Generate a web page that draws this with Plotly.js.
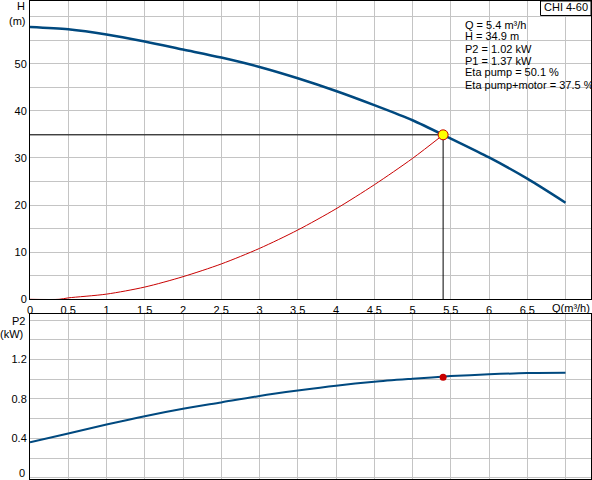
<!DOCTYPE html>
<html>
<head>
<meta charset="utf-8">
<script src="https://cdn.plot.ly/plotly-3.0.1.min.js"></script>
<style>html,body{margin:0;padding:0;background:#fff;}#chart{width:592px;height:480px;}</style>
</head>
<body>
<div id="chart"></div>
<script>
// Pump curve data
var flowQ = [0, 0.5, 1, 1.5, 2, 2.5, 3, 3.5, 4, 4.5, 5, 5.5, 6, 6.5, 7];
var headH = [57.8, 57.3, 56.2, 54.7, 53.0, 51.3, 49.3, 46.9, 44.2, 41.2, 38.0, 34.1, 30.1, 25.6, 20.5];
var powerP2 = [0.36, 0.45, 0.54, 0.625, 0.70, 0.765, 0.83, 0.885, 0.935, 0.975, 1.005, 1.032, 1.05, 1.063, 1.066];
// System curve
var sysQ = [0, 0.38, 0.5, 1, 1.5, 2, 2.5, 3, 3.5, 4, 4.5, 5, 5.4];
var sysH = [0, 0, 0.3, 1.1, 2.6, 4.8, 7.5, 10.8, 14.7, 19.2, 24.3, 29.9, 34.9];
// Operating point
var opQ = 5.4, opH = 34.9, opP2 = 1.02;
var infoLines = ["Q = 5.4 m³/h", "H = 34.9 m", "P2 = 1.02 kW", "P1 = 1.37 kW", "Eta pump = 50.1 %", "Eta pump+motor = 37.5 %"];
var titleText = "CHI 4-60";
var xTickVals = [0, 0.5, 1, 1.5, 2, 2.5, 3, 3.5, 4, 4.5, 5, 5.5, 6, 6.5, 7];
var xTickText = ["0", "0.5", "1", "1.5", "2", "2.5", "3", "3.5", "4", "4.5", "5", "5.5", "6", "6.5", ""];
var hTickVals = [0, 5, 10, 15, 20, 25, 30, 35, 40, 45, 50, 55, 60];
var hTickText = ["0", "", "10", "", "20", "", "30", "", "40", "", "50", "", ""];
var pTickVals = [0, 0.2, 0.4, 0.6, 0.8, 1.0, 1.2, 1.4, 1.6];
var pTickText = ["", "", "0.4", "", "0.8", "", "1.2", "", ""];

var blue = "#00497f", red = "#c80000", grid = "#c4c4c4";
var FONT = "Liberation Sans, Arial, sans-serif";

var traces = [
  {x: [0, opQ, opQ], y: [opH, opH, 0], mode: "lines", line: {color: "#000", width: 1}, xaxis: "x", yaxis: "y", hoverinfo: "skip"},
  {x: sysQ, y: sysH, mode: "lines", line: {color: red, width: 1, shape: "spline", smoothing: 0.8}, xaxis: "x", yaxis: "y"},
  {x: flowQ, y: headH, mode: "lines", line: {color: blue, width: 2.5, shape: "spline", smoothing: 0.8}, xaxis: "x", yaxis: "y"},
  {x: [opQ], y: [opH], mode: "markers", marker: {color: "#ffff00", size: 10, line: {color: red, width: 1}}, xaxis: "x", yaxis: "y"},
  {x: flowQ, y: powerP2, mode: "lines", line: {color: blue, width: 2, shape: "spline", smoothing: 0.8}, xaxis: "x2", yaxis: "y2"},
  {x: [opQ], y: [opP2], mode: "markers", marker: {color: red, size: 7}, xaxis: "x2", yaxis: "y2"}
];

function px2paperY(py) { return (479 - py) / 478; }

var annotations = [];
for (var i = 0; i < infoLines.length; i++) {
  annotations.push({xref: "paper", yref: "paper", x: (462.5 - 30) / 561, y: px2paperY(24.5 + i * 12),
    xanchor: "left", yanchor: "middle", showarrow: false, text: infoLines[i], font: {family: FONT, size: 11, color: "#000"}});
}
annotations.push({xref: "paper", yref: "paper", x: (566 - 30) / 561, y: px2paperY(7.5), xanchor: "center", yanchor: "middle",
  showarrow: false, text: titleText, font: {family: FONT, size: 11, color: "#000"}});
annotations.push({xref: "paper", yref: "paper", x: -3 / 561, y: px2paperY(6.5), xanchor: "right", yanchor: "middle",
  showarrow: false, text: "H", font: {family: FONT, size: 11, color: "#000"}});
annotations.push({xref: "paper", yref: "paper", x: -2 / 561, y: px2paperY(20.5), xanchor: "right", yanchor: "middle",
  showarrow: false, text: "(m)", font: {family: FONT, size: 11, color: "#000"}});
annotations.push({xref: "paper", yref: "paper", x: -3 / 561, y: px2paperY(321), xanchor: "right", yanchor: "middle",
  showarrow: false, text: "P2", font: {family: FONT, size: 11, color: "#000"}});
annotations.push({xref: "paper", yref: "paper", x: -5 / 561, y: px2paperY(334), xanchor: "right", yanchor: "middle",
  showarrow: false, text: "(kW)", font: {family: FONT, size: 11, color: "#000"}});
annotations.push({xref: "paper", yref: "paper", x: -3 / 561, y: px2paperY(473), xanchor: "right", yanchor: "middle",
  showarrow: false, text: "0", font: {family: FONT, size: 11, color: "#000"}});
annotations.push({xref: "paper", yref: "paper", x: (571 - 30) / 561, y: px2paperY(307.5), xanchor: "center", yanchor: "middle",
  showarrow: false, text: "Q(m³/h)", font: {family: FONT, size: 11, color: "#000"}});

var shapes = [
  {type: "rect", xref: "paper", yref: "paper", x0: (462.5 - 30) / 561, x1: 1, y0: px2paperY(96.5), y1: px2paperY(19.5),
    fillcolor: "#fff", line: {width: 0}, layer: "between"},
  {type: "rect", xref: "paper", yref: "paper", x0: (540.5 - 30) / 561, x1: 1, y0: px2paperY(15.5), y1: 1,
    fillcolor: "#fff", line: {color: "#000", width: 1}, layer: "above"}
];

var axisCommon = {showline: true, mirror: true, linecolor: "#000", linewidth: 1, showgrid: true, gridcolor: grid, gridwidth: 1,
  zeroline: false, ticks: "", tickfont: {family: FONT, size: 11, color: "#000"}, fixedrange: true};

var layout = {
  width: 592, height: 480,
  margin: {l: 30, r: 1, t: 1, b: 1, pad: 0},
  paper_bgcolor: "#fff", plot_bgcolor: "#fff",
  showlegend: false,
  font: {family: FONT, size: 11, color: "#000"},
  xaxis: Object.assign({}, axisCommon, {domain: [0, 1], range: [0, 7.333], tickmode: "array", tickvals: xTickVals, ticktext: xTickText, anchor: "y"}),
  yaxis: Object.assign({}, axisCommon, {domain: [px2paperY(299.3), 1], range: [0, 63.3], tickmode: "array", tickvals: hTickVals, ticktext: hTickText, anchor: "x"}),
  xaxis2: Object.assign({}, axisCommon, {domain: [0, 1], range: [0, 7.333], tickmode: "array", tickvals: xTickVals, showticklabels: false, anchor: "y2"}),
  yaxis2: Object.assign({}, axisCommon, {domain: [0, px2paperY(314)], range: [-0.013, 1.663], tickmode: "array", tickvals: pTickVals, ticktext: pTickText, anchor: "x2"}),
  annotations: annotations,
  shapes: shapes
};

Plotly.newPlot("chart", traces, layout, {staticPlot: true, displayModeBar: false});
</script>
</body>
</html>
